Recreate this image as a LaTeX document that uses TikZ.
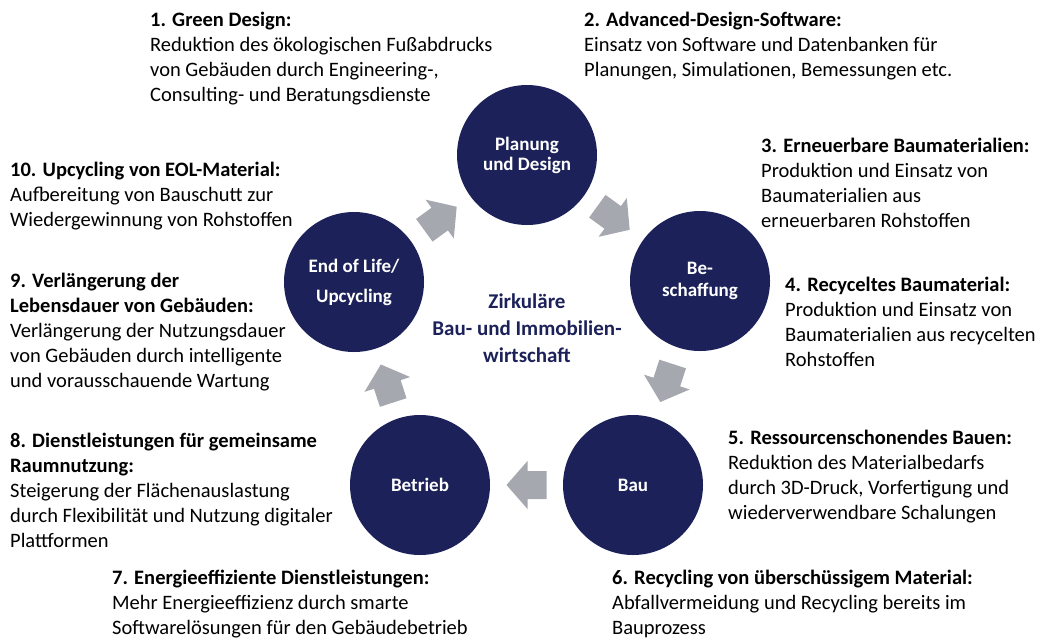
\documentclass[tikz,border=0pt]{standalone}
\usepackage{fontspec}
\setmainfont{Carlito}
\usetikzlibrary{calc}

\definecolor{navy}{RGB}{28,34,89}
\definecolor{arrowgray}{RGB}{166,168,176}

\tikzset{
  phase/.style={circle, fill=navy, minimum size=140pt, inner sep=0pt, text=white,
    align=center, font=\bfseries\fontsize{19}{20}\selectfont},
  info/.style={anchor=north west, inner sep=0pt, align=left,
    font=\fontsize{20.5}{25}\selectfont},
  cyclearrow/.pic={
    \fill[arrowgray] (-20,-14) -- (-1,-14) -- (-1,-24) -- (20,0) -- (-1,24) -- (-1,14) -- (-20,14) -- cycle;
  }
}

\begin{document}
\begin{tikzpicture}[x=1pt, y=-1pt]
	\useasboundingbox (0,0) rectangle (1040,640);
	% the five phases
	\node[phase] (plan) at (527,155) {Planung\\und Design};
	\node[phase, font=\bfseries\fontsize{19}{22}\selectfont] (besch) at (700,281) {Be-\\schaffung};
	\node[phase] (bau) at (633,485) {Bau};
	\node[phase] (betrieb) at (420,485) {Betrieb};
	\node[phase, font=\bfseries\fontsize{19}{30}\selectfont] (eol) at (354,282) {End of Life/\\Upcycling};
	% arrows between them
	\pic[rotate=-36] at ($(plan)!0.5!(besch)$) {cyclearrow};
	\pic[rotate=-108] at ($(besch)!0.5!(bau)$) {cyclearrow};
	\pic[rotate=180] at ($(bau)!0.5!(betrieb)$) {cyclearrow};
	\pic[rotate=108] at ($(betrieb)!0.5!(eol)$) {cyclearrow};
	\pic[rotate=36] at ($(eol)!0.5!(plan)$) {cyclearrow};
	\node[text=navy, align=center, font=\bfseries\fontsize{21}{27}\selectfont] (title) at (527,328) {Zirkuläre\\Bau- und Immobilien-\\wirtschaft};
	% texts
	\node[info] (t1) at (150,12) {\textbf{1. Green Design:}\\Reduktion des ökologischen Fußabdrucks\\von Gebäuden durch Engineering-,\\Consulting- und Beratungsdienste};
	\node[info] (t2) at (584,12) {\textbf{2. Advanced-Design-Software:}\\Einsatz von Software und Datenbanken für\\Planungen, Simulationen, Bemessungen etc.};
	\node[info] (t3) at (761,138) {\textbf{3. Erneuerbare Baumaterialien:}\\Produktion und Einsatz von\\Baumaterialien aus\\erneuerbaren Rohstoffen};
	\node[info] (t4) at (785,277) {\textbf{4. Recyceltes Baumaterial:}\\Produktion und Einsatz von\\Baumaterialien aus recycelten\\Rohstoffen};
	\node[info] (t5) at (728,430) {\textbf{5. Ressourcenschonendes Bauen:}\\Reduktion des Materialbedarfs\\durch 3D-Druck, Vorfertigung und\\wiederverwendbare Schalungen};
	\node[info] (t6) at (612,570) {\textbf{6. Recycling von überschüssigem Material:}\\Abfallvermeidung und Recycling bereits im\\Bauprozess};
	\node[info] (t7) at (112,570) {\textbf{7. Energieeffiziente Dienstleistungen:}\\Mehr Energieeffizienz durch smarte\\Softwarelösungen für den Gebäudebetrieb};
	\node[info] (t8) at (10,433) {\textbf{8. Dienstleistungen für gemeinsame}\\\textbf{Raumnutzung:}\\Steigerung der Flächenauslastung\\durch Flexibilität und Nutzung digitaler\\Plattformen};
	\node[info] (t9) at (10,273) {\textbf{9. Verlängerung der}\\\textbf{Lebensdauer von Gebäuden:}\\Verlängerung der Nutzungsdauer\\von Gebäuden durch intelligente\\und vorausschauende Wartung};
	\node[info] (t10) at (10,162) {\textbf{10. Upcycling von EOL-Material:}\\Aufbereitung von Bauschutt zur\\Wiedergewinnung von Rohstoffen};
\end{tikzpicture}
\end{document}
